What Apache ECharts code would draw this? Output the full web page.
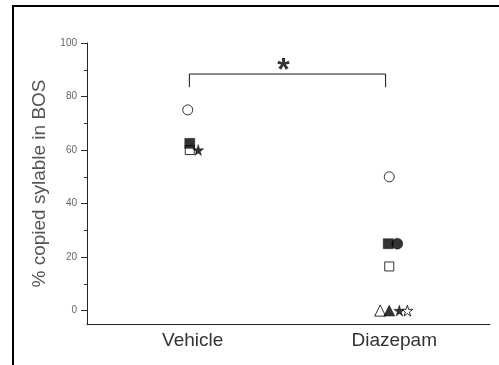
<!DOCTYPE html>
<html>
<head>
<meta charset="utf-8">
<script src="https://cdn.jsdelivr.net/npm/echarts@6/dist/echarts.min.js"></script>
<style>html,body{margin:0;padding:0;background:#fff;}#c{width:499px;height:365px;}</style>
</head>
<body>
<div id="c"></div>
<script>
// categories (x positions 1 and 2)
const categories = ['Vehicle', 'Diazepam'];
const yTickValues = [0, 20, 40, 60, 80, 100];
const yMinorTickValues = [10, 30, 50, 70, 90];
// points: [x (category index + jitter), % copied syllable]
const openCircle = [[1.0, 75], [2.0, 50]];
const openSquare = [[1.01, 60], [2.0, 16.5]];
const filledSquare = [[1.01, 62.5], [1.995, 25]];
const filledStar = [[1.052, 60], [2.05, 0]];
const filledCircle = [[2.04, 25]];
const openTriangle = [[1.955, 0]];
const filledTriangle = [[2.0, 0]];
const openStar = [[2.09, 0]];
// significance bracket
const bracket = [[1.008, 83.5], [1.008, 88.4], [1.982, 88.4], [1.982, 83.5]];
const sigMark = [[1.475, 88.4]];

const STAR = 'path://M50,0 L61,35 L98,35 L68,57 L79,91 L50,70 L21,91 L32,57 L2,35 L39,35 Z';
const FONT = 'Liberation Sans, Arial, sans-serif';

function sc(name, data, symbol, size, filled) {
  return {
    type: 'scatter', name, data, symbol, symbolSize: size,
    itemStyle: filled ? { color: '#000', borderColor: '#000', borderWidth: 0.5 }
                      : { color: '#fff', borderColor: '#000', borderWidth: 1 },
    z: 3
  };
}

const chart = echarts.init(document.getElementById('c'), null, { renderer: 'canvas' });
chart.setOption({
  animation: false,
  backgroundColor: '#fff',
  grid: { left: 87, right: 9, top: 43, bottom: 41, containLabel: false },
  xAxis: {
    type: 'value', min: 0.5, max: 2.5, interval: 0.5,
    axisLine: { onZero: false, lineStyle: { color: '#222', width: 1 } },
    axisTick: { show: false },
    splitLine: { show: false },
    axisLabel: {
      margin: 7, fontSize: 19, color: '#333', fontFamily: FONT, padding: [0, 0, 0, 10],
      formatter: v => (Math.abs(v - 1) < 1e-6 ? categories[0] : Math.abs(v - 2) < 1e-6 ? categories[1] : '')
    }
  },
  yAxis: [{
    type: 'value', min: -5, max: 100,
    name: '% copied sylable in BOS', nameLocation: 'middle', nameGap: 38,
    nameTextStyle: { fontSize: 19, color: '#555', fontFamily: FONT },
    axisLine: { show: true, lineStyle: { color: '#222', width: 1 } },
    axisTick: { show: true, length: 6, customValues: yTickValues, lineStyle: { color: '#333' } },
    axisLabel: { customValues: yTickValues, fontSize: 10, color: '#666', margin: 10, fontFamily: FONT },
    splitLine: { show: false }
  }, {
    type: 'value', min: -5, max: 100, position: 'left', offset: 0,
    axisLine: { show: false },
    axisTick: { show: true, length: 3, customValues: yMinorTickValues, lineStyle: { color: '#333' } },
    axisLabel: { show: false },
    splitLine: { show: false }
  }],
  series: [
    sc('openCircle', openCircle, 'circle', 10, false),
    sc('openSquare', openSquare, 'rect', 9, false),
    sc('filledSquare', filledSquare, 'rect', 10, true),
    sc('filledCircle', filledCircle, 'circle', 11, true),
    sc('openTriangle', openTriangle, 'triangle', 11, false),
    sc('filledTriangle', filledTriangle, 'triangle', 11, true),
    sc('filledStar', filledStar, STAR, 11, true),
    sc('openStar', openStar, STAR, 11, false),
    {
      type: 'line', data: bracket, symbol: 'none',
      lineStyle: { color: '#111', width: 1 }, z: 2
    },
    {
      type: 'scatter', data: sigMark, symbolSize: 0,
      label: { show: true, position: 'top', distance: -13, formatter: '*', fontSize: 32, fontWeight: 'bold', color: '#000', fontFamily: FONT }
    }
  ],
  graphic: [
    { type: 'line', shape: { x1: 13, y1: 6, x2: 13, y2: 365 }, style: { stroke: '#000', lineWidth: 2 } },
    { type: 'line', shape: { x1: 12, y1: 6, x2: 499, y2: 6 }, style: { stroke: '#000', lineWidth: 2 } }
  ]
});
</script>
</body>
</html>
